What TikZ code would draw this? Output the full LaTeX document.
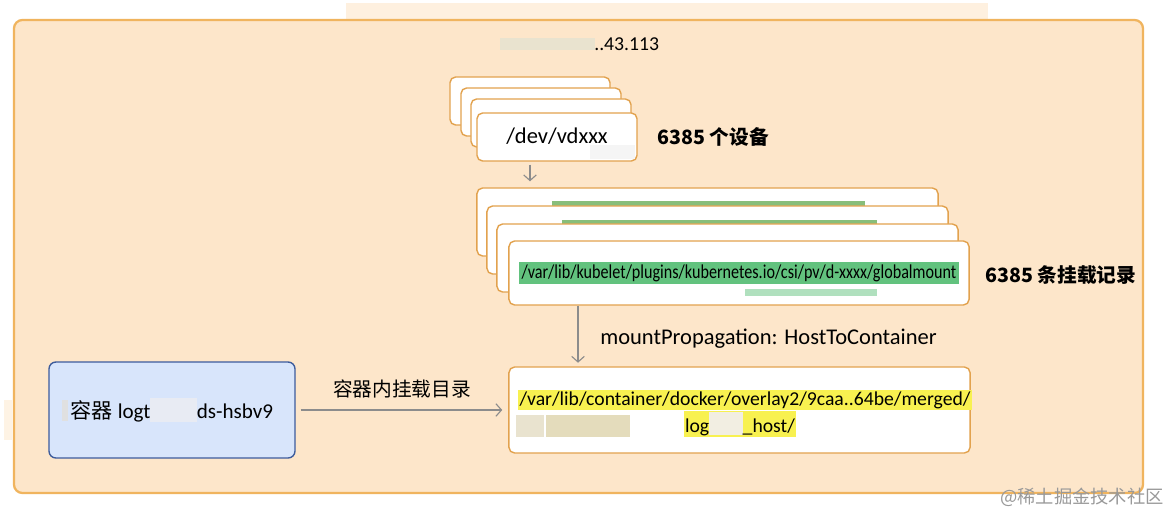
\documentclass[tikz,border=0pt]{standalone}
\usepackage{fontspec}
\setmainfont{Carlito}
\newfontfamily\cjk{Noto Sans CJK SC}
\usetikzlibrary{arrows.meta,calc}
\pgfdeclarelayer{background}
\pgfdeclarelayer{foreground}
\pgfsetlayers{background,main,foreground}
\definecolor{peach}{HTML}{FDE6CA}
\definecolor{peachline}{HTML}{F0B45E}
\definecolor{boxline}{HTML}{E2A24E}
\definecolor{bluefill}{HTML}{D8E5FB}
\definecolor{blueline}{HTML}{3D5C9C}
\definecolor{arrgrey}{HTML}{8C8C8C}
\definecolor{hlgreen}{HTML}{62C27E}
\definecolor{hlyellow}{HTML}{F8F150}
\definecolor{blob}{HTML}{E9E3CF}
\definecolor{blobdark}{HTML}{E4DCBC}
\newcommand{\blurbit}[2]{\textcolor{#1}{\rule[-0.3ex]{#2}{2.4ex}}}

\begin{document}
\begin{tikzpicture}[x=0.025cm,y=-0.025cm,
  box/.style={draw=boxline, line width=1pt, fill=white, rounded corners=4pt, inner sep=0pt},
  arr/.style={draw=arrgrey, line width=0.8pt, -{Straight Barb[length=4pt,width=9pt]}},
  lbl/.style={font=\fontsize{14}{16}\selectfont\cjk\bfseries, anchor=west, inner sep=0pt}]
\useasboundingbox (0,0) rectangle (1168,514);

\begin{pgfonlayer}{background}
\fill[white] (0,0) rectangle (1168,514);
\fill[peach!60] (346,3) rectangle (988,19);
\fill[peach!50] (4,400) rectangle (12,440);
\draw[line width=1.6pt, draw=peachline, fill=peach, rounded corners=6pt] (14,20) rectangle (1143,493);
\end{pgfonlayer}

% host
\fill[blob] (500,38) rectangle (595,50);
\node[inner sep=0pt, anchor=west, font=\fontsize{14}{16}\selectfont] (host) at (594,44) {..43.113};

% devices
\node[box, minimum width=4cm, minimum height=1.2cm] (dev1) at (530,101) {};
\node[box, minimum width=4cm, minimum height=1.2cm] (dev2) at (541,112) {};
\node[box, minimum width=4cm, minimum height=1.2cm] (dev3) at (551,123) {};
\node[box, minimum width=4cm, minimum height=1.2cm] (dev) at (557,137) {};
\fill[black!4] (590,145) rectangle (635,159);
\node[font=\fontsize{16}{18}\selectfont] (devname) at (557,136) {/dev/vdxxx};
\node[lbl] (devcnt) at (657,137) {6385\ 个设备};

% mount records
\node[box, minimum width=11.525cm, minimum height=1.7cm] (mnt1) at (707.5,222) {};
\fill[hlgreen!70!olive!80] (552,201) rectangle (865,207);
\node[box, minimum width=11.525cm, minimum height=1.7cm] (mnt2) at (717.5,240) {};
\fill[hlgreen!70!olive!80] (562,220) rectangle (877,226);
\node[box, minimum width=11.525cm, minimum height=1.7cm] (mnt3) at (727.5,258) {};
\node[box, minimum width=11.5cm, minimum height=1.6cm] (mnt) at (739,273) {};
\node[fill=hlgreen, inner sep=1.5pt, font=\fontsize{14}{16}\selectfont] (mntpath) at (739,273)
  {\scalebox{0.82}[1]{/var/lib/kubelet/plugins/kubernetes.io/csi/pv/d-xxxx/globalmount}};
\fill[hlgreen!50] (745,289) rectangle (877,296);
\node[lbl] (mntcnt) at (985,275) {6385 条挂载记录};

\draw[arr] ($(dev.south)+(-27,3)$) -- ($(mnt1.north)+(-177.5,-6)$);
\draw[arr] ($(mnt.south)+(-161,0)$) -- ($(mnt.south)+(-161,57)$) coordinate (tip);
\node[anchor=west, inner sep=0pt, font=\fontsize{16}{18}\selectfont] (prop) at (600,339) {mountPropagation: HostToContainer};

% container side
\node[box, minimum width=11.525cm, minimum height=2.15cm] (tgt) at (739.5,410) {};
\node[fill=hlyellow, inner sep=1pt, font=\fontsize{14}{16}\selectfont] (tgt1) at (745,400)
  {/var/lib/container/docker/overlay2/9caa..64be/merged/};
\node[fill=hlyellow, inner sep=1pt, font=\fontsize{14}{16}\selectfont] (tgt2) at (740,424)
  {log\blurbit{blob!60}{1.7em}\_host/};
\fill[blob] (516,415) rectangle (544,437);
\fill[blobdark] (546,415) rectangle (630,437);

\node[draw=blueline, line width=1pt, fill=bluefill, rounded corners=5pt,
  minimum width=6.15cm, minimum height=2.4cm] (ctr) at (172,410) {};
\fill[black!12] (62,400) rectangle (68,421);
\node[font=\fontsize{15}{17}\selectfont] (ctrname) at (172,410)
  {{\cjk 容器} logt\blurbit{blueline!12}{2.2em}ds-hsbv9};

\draw[arr] ($(ctr.east)+(5,0)$) -- ($(tgt.west)+(-6,0)$);
\node[font=\fontsize{14}{16}\selectfont\cjk, inner sep=0pt] (mntdir) at (402,389) {容器内挂载目录};

% watermark
\node[font=\fontsize{13}{15}\selectfont\cjk, text=black!40, inner sep=0pt] (wm) at (1082,497) {@稀土掘金技术社区};
\end{tikzpicture}
\end{document}
